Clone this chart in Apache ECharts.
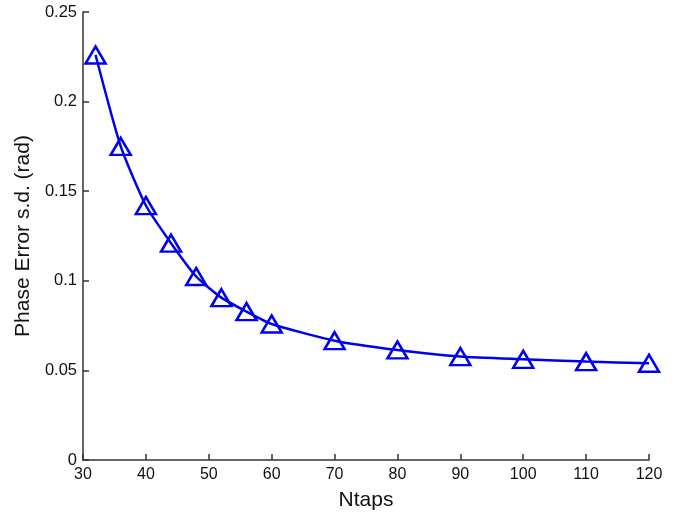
<!DOCTYPE html>
<html>
<head>
<meta charset="utf-8">
<script src="https://cdn.jsdelivr.net/npm/echarts@6/dist/echarts.min.js"></script>
<style>
  html, body { margin: 0; padding: 0; background: #fff; }
  #chart { width: 690px; height: 516px; }
</style>
</head>
<body>
<div id="chart"></div>
<script>
// Ntaps values and phase error s.d.
const ntaps = [32, 36, 40, 44, 48, 52, 56, 60, 70, 80, 90, 100, 110, 120];
const phaseErr = [0.226, 0.175, 0.142, 0.121, 0.1024, 0.0906, 0.0828, 0.0759, 0.0666, 0.0614, 0.0577, 0.0562, 0.0549, 0.0540];

const axisFont = 'Liberation Sans, Arial, Helvetica, sans-serif';

const chart = echarts.init(document.getElementById('chart'));

const option = {
  backgroundColor: '#fff',
  animation: false,
  grid: {
    left: 83,
    right: 41,
    top: 12,
    bottom: 56,
  },
  xAxis: {
    type: 'value',
    min: 30,
    max: 120,
    interval: 10,
    name: 'Ntaps',
    nameLocation: 'middle',
    nameGap: 30,
    nameTextStyle: { fontFamily: axisFont, fontSize: 21, color: '#111' },
    axisLine: { show: true, lineStyle: { color: '#333', width: 1.5 } },
    axisTick: { show: true, inside: true, length: 6, lineStyle: { color: '#333', width: 1.5 } },
    axisLabel: { fontFamily: axisFont, fontSize: 16, color: '#111', margin: 7 },
    splitLine: { show: false },
  },
  yAxis: {
    type: 'value',
    min: 0,
    max: 0.25,
    interval: 0.05,
    name: 'Phase Error s.d. (rad)',
    nameLocation: 'middle',
    nameGap: 49,
    nameTextStyle: { fontFamily: axisFont, fontSize: 21, color: '#111' },
    axisLine: { show: true, lineStyle: { color: '#333', width: 1.5 } },
    axisTick: { show: true, inside: true, length: 6, lineStyle: { color: '#333', width: 1.5 } },
    axisLabel: {
      fontFamily: axisFont,
      fontSize: 16.5,
      color: '#111',
      margin: 6,
      formatter: (v) => String(parseFloat(v.toFixed(2))),
    },
    splitLine: { show: false },
  },
  series: [
    {
      type: 'line',
      data: ntaps.map((x, i) => [x, phaseErr[i]]),
      smooth: 0.2,
      symbol: 'triangle',
      symbolSize: [20, 17],
      lineStyle: { color: '#0000f0', width: 2.5 },
      itemStyle: { color: 'rgba(0,0,0,0)', borderColor: '#0000f0', borderWidth: 2.5 },
    },
  ],
};

chart.setOption(option);
</script>
</body>
</html>
